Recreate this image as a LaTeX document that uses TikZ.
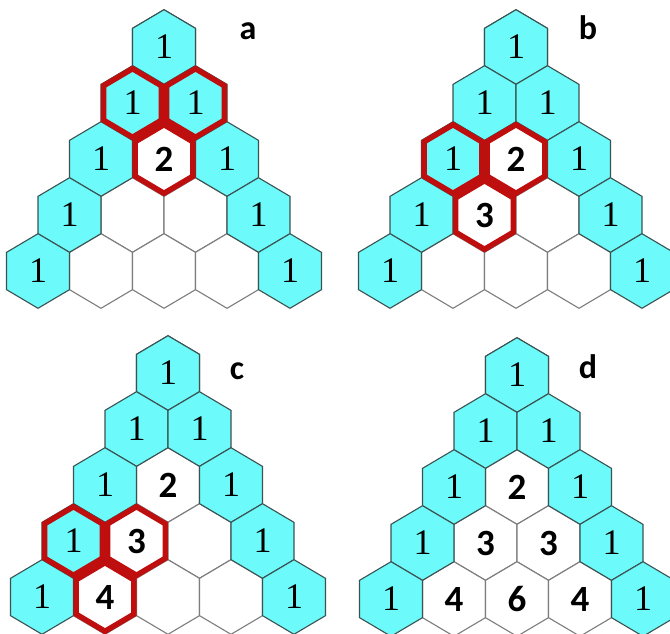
\documentclass[tikz,border=0pt]{standalone}
\usepackage{fontspec}
\newfontfamily\onefont{Liberation Serif}
\newfontfamily\boldsans{Carlito}
\usepackage{tikz}
\definecolor{hexcyan}{RGB}{108,250,250}
\definecolor{hexline}{RGB}{60,82,82}
\definecolor{hexgrey}{RGB}{125,125,125}
\definecolor{markred}{RGB}{190,14,14}

\tikzset{
  hexagon/.pic={\path[pic actions] (0,-37.3) -- (31.5,-18.65) -- (31.5,18.65)
    -- (0,37.3) -- (-31.5,18.65) -- (-31.5,-18.65) -- cycle;},
  edgecell/.style={fill=hexcyan, draw=hexline, line width=1.1pt},
  innercell/.style={fill=white, draw=hexgrey, line width=1.1pt},
  marked/.style={draw=markred, line width=5.5pt, scale=0.92},
  onenum/.style={font=\onefont\fontsize{36}{36}\selectfont, inner sep=0pt},
  bignum/.style={font=\boldsans\bfseries\fontsize{37}{37}\selectfont, inner sep=0pt},
  panellabel/.style={font=\boldsans\bfseries\fontsize{34}{34}\selectfont, inner sep=0pt, anchor=base},
}

\begin{document}
\begin{tikzpicture}[x=1pt,y=-1pt]
  \useasboundingbox (0,0) rectangle (670,634);
  % cell centres of the four triangles
  \foreach \p/\ax/\ay in {a/164/47, b/516/47, c/168/373, d/517/375} {
    \foreach \r in {0,...,4}
      \foreach \k in {0,...,\r}
        \coordinate (c\p-\r-\k) at ({\ax+(\k-\r/2)*63}, {\ay+\r*56});
  }
  % white cells first, cyan border cells on top
  \foreach \p in {a,b,c,d} {
    \foreach \r in {2,3,4} {
      \pgfmathtruncatemacro{\last}{\r-1}
      \foreach \k in {1,...,\last}
        \pic[innercell] at (c\p-\r-\k) {hexagon};
    }
    \foreach \r in {0,...,4} {
      \pic[edgecell] at (c\p-\r-0) {hexagon};
      \pic[edgecell] at (c\p-\r-\r) {hexagon};
    }
  }
  % the ones along both sides
  \foreach \p in {a,b,c,d}
    \foreach \r in {0,...,4} {
      \node[onenum] (\p-\r-0) at (c\p-\r-0) {1};
      \ifnum\r>0
        \node[onenum] (\p-\r-\r) at (c\p-\r-\r) {1};
      \fi
    }

  % inner numbers
  \node[bignum] (a-2-1) at (ca-2-1) {2};
  \node[bignum] (b-2-1) at (cb-2-1) {2};
  \node[bignum] (b-3-1) at (cb-3-1) {3};
  \node[bignum] (c-2-1) at (cc-2-1) {2};
  \node[bignum] (c-3-1) at (cc-3-1) {3};
  \node[bignum] (c-4-1) at (cc-4-1) {4};
  \node[bignum] (d-2-1) at (cd-2-1) {2};
  \node[bignum] (d-3-1) at (cd-3-1) {3};
  \node[bignum] (d-3-2) at (cd-3-2) {3};
  \node[bignum] (d-4-1) at (cd-4-1) {4};
  \node[bignum] (d-4-2) at (cd-4-2) {6};
  \node[bignum] (d-4-3) at (cd-4-3) {4};

  % red outlines: two cells and their sum
  \pic[marked] at (ca-1-0) {hexagon};
  \pic[marked] at (ca-1-1) {hexagon};
  \pic[marked] at (ca-2-1) {hexagon};
  \pic[marked] at (cb-2-0) {hexagon};
  \pic[marked] at (cb-2-1) {hexagon};
  \pic[marked] at (cb-3-1) {hexagon};
  \pic[marked] at (cc-3-0) {hexagon};
  \pic[marked] at (cc-3-1) {hexagon};
  \pic[marked] at (cc-4-1) {hexagon};

  \node[panellabel] (lab-a) at (248,40) {a};
  \node[panellabel] (lab-b) at (588,40) {b};
  \node[panellabel] (lab-c) at (237,379) {c};
  \node[panellabel] (lab-d) at (588,378) {d};
\end{tikzpicture}
\end{document}
